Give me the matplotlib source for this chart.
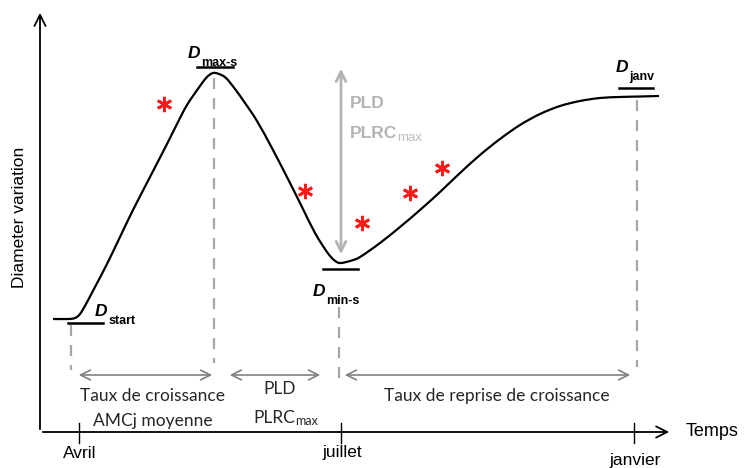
import numpy as np
import matplotlib.pyplot as plt
from matplotlib.path import Path
from matplotlib.patches import PathPatch

# schematic diameter curve, in picture units (x = time, y = depth from top)
curve_t = [53, 68, 75, 80, 86, 95, 107, 120, 133, 150, 167, 177, 187, 200, 207, 213, 219,
           226, 235, 245, 257, 273, 290, 302, 315, 327, 334, 340, 350, 360, 380, 400, 420,
           440, 460, 480, 500, 520, 540, 560, 580, 600, 620, 640, 659]
curve_d = [319, 319, 318, 314, 304, 287, 264, 237, 210, 177, 144, 124, 105, 86, 77, 73, 74,
           78, 89, 103, 121, 150, 183, 207, 233, 252, 260, 263, 261, 257, 243, 227, 210,
           192, 173, 155, 139, 125, 114, 106, 101, 98, 97, 96.5, 96]

# red asterisks
stars_t = [164, 305, 362, 410, 442]
stars_d = [104, 191, 223, 193, 168]

# month ticks on the time axis
months = ['Avril', 'juillet', 'janvier']
month_t = [79, 341, 634]
month_lab_d = [453, 453, 460]

# D levels
levels = ['start', 'max-s', 'min-s', 'janv']
bar_x0 = [68, 197, 323, 619]
bar_x1 = [103, 233, 358, 653]
bar_y = [323, 67, 269, 88]
lab_x = [95, 188, 313, 616]
lab_y = [316, 58, 296, 72]

# dashed guide lines
guide_t = [71, 214, 339, 637]
guide_top = [325, 78, 307, 100]
guide_bot = [370, 363, 382, 367]

# period arrows
span_x0 = [76, 227, 342]
span_x1 = [215, 323, 633]
span_y = 375

fig = plt.figure(figsize=(7.45, 4.68), dpi=100)
ax = fig.add_axes([0, 0, 1, 1])
ax.set_xlim(0, 745)
ax.set_ylim(468, 0)
ax.axis('off')

# axes with arrows
ax.annotate('', xy=(40, 10), xytext=(40, 432),
            arrowprops=dict(arrowstyle='->,head_length=0.8,head_width=0.4', color='black', lw=1.3))
ax.annotate('', xy=(672, 432), xytext=(40, 432),
            arrowprops=dict(arrowstyle='->,head_length=0.8,head_width=0.4', color='black', lw=1.3))
ax.text(20, 217, 'Diameter variation', rotation=90, ha='center', va='center',
        fontsize=12.5, family='Liberation Sans')
ax.text(686, 432, 'Temps', ha='left', va='center', fontsize=13, family='Liberation Sans')

for m, t, d in zip(months, month_t, month_lab_d):
    ax.plot([t, t], [423, 443], color='black', lw=1)
    ax.text(t + 1, d, m, ha='center', va='center', fontsize=12.5, family='Liberation Sans')

# dashed guides
for t, a, b in zip(guide_t, guide_top, guide_bot):
    ax.plot([t, t], [a, b], color='#a6a6a6', lw=1.6, dashes=(5, 4))

# curve: smooth through the read points (catmull-rom as bezier segments)
P = np.column_stack([curve_t, curve_d]).astype(float)
Pe = np.vstack([P[0], P, P[-1]])
verts = [P[0]]
codes = [Path.MOVETO]
for i in range(1, len(Pe) - 2):
    c1 = Pe[i] + (Pe[i + 1] - Pe[i - 1]) / 6
    c2 = Pe[i + 1] - (Pe[i + 2] - Pe[i]) / 6
    verts += [c1, c2, Pe[i + 1]]
    codes += [Path.CURVE4] * 3
ax.add_patch(PathPatch(Path(verts, codes), fill=False, edgecolor='black', lw=1.6))

# level bars + labels
for s, a, b, y, lx, ly in zip(levels, bar_x0, bar_x1, bar_y, lab_x, lab_y):
    ax.plot([a, b], [y, y], color='black', lw=1.8)
    dt = ax.text(lx, ly, 'D', ha='left', va='baseline', fontsize=12.5,
                 family='Liberation Sans', weight='bold', style='italic')
    ax.annotate(s, xy=(1, 0), xycoords=dt, xytext=(0.5, -3.5), textcoords='offset points',
                ha='left', va='baseline', fontsize=9, family='Liberation Sans', weight='bold')

# stars
ax.plot(stars_t, stars_d, linestyle='none', marker=(6, 2, 0), markersize=11,
        markeredgewidth=2, color='#ff1a1a')

# PLD vertical arrow
ax.annotate('', xy=(341, 66), xytext=(341, 257),
            arrowprops=dict(arrowstyle='<->,head_length=0.7,head_width=0.35', color='#b3b3b3', lw=2))
ax.text(350, 103, 'PLD', ha='left', va='center', fontsize=12.5, family='Liberation Sans',
        weight='bold', color='#b3b3b3')
pt = ax.text(350, 133, 'PLRC', ha='left', va='center', fontsize=12.5, family='Liberation Sans',
             weight='bold', color='#b3b3b3')
ax.annotate('max', xy=(1, 0), xycoords=pt, xytext=(0, -0.5), textcoords='offset points',
            ha='left', va='baseline', fontsize=9.5, family='Liberation Sans',
            color='#bdbdbd')

# period arrows and captions
for a, b in zip(span_x0, span_x1):
    ax.annotate('', xy=(b, span_y), xytext=(a, span_y),
                arrowprops=dict(arrowstyle='<->,head_length=0.7,head_width=0.35',
                                color='#808080', lw=1.2))

cap = dict(ha='center', va='center', fontsize=12.5, family='Lato', color='#262626')
ax.text(153, 396, 'Taux de croissance', **cap)
ax.text(153, 421, 'AMCj moyenne', **cap)
ax.text(280, 389, 'PLD', **cap)
pl = ax.text(274, 418, 'PLRC', **cap)
ax.annotate('max', xy=(1, 0), xycoords=pl, xytext=(0, 1), textcoords='offset points',
            ha='left', va='baseline', fontsize=9, family='Lato', color='#262626')
ax.text(497, 396, 'Taux de reprise de croissance', **cap)

fig.savefig('out.png', dpi=100)
